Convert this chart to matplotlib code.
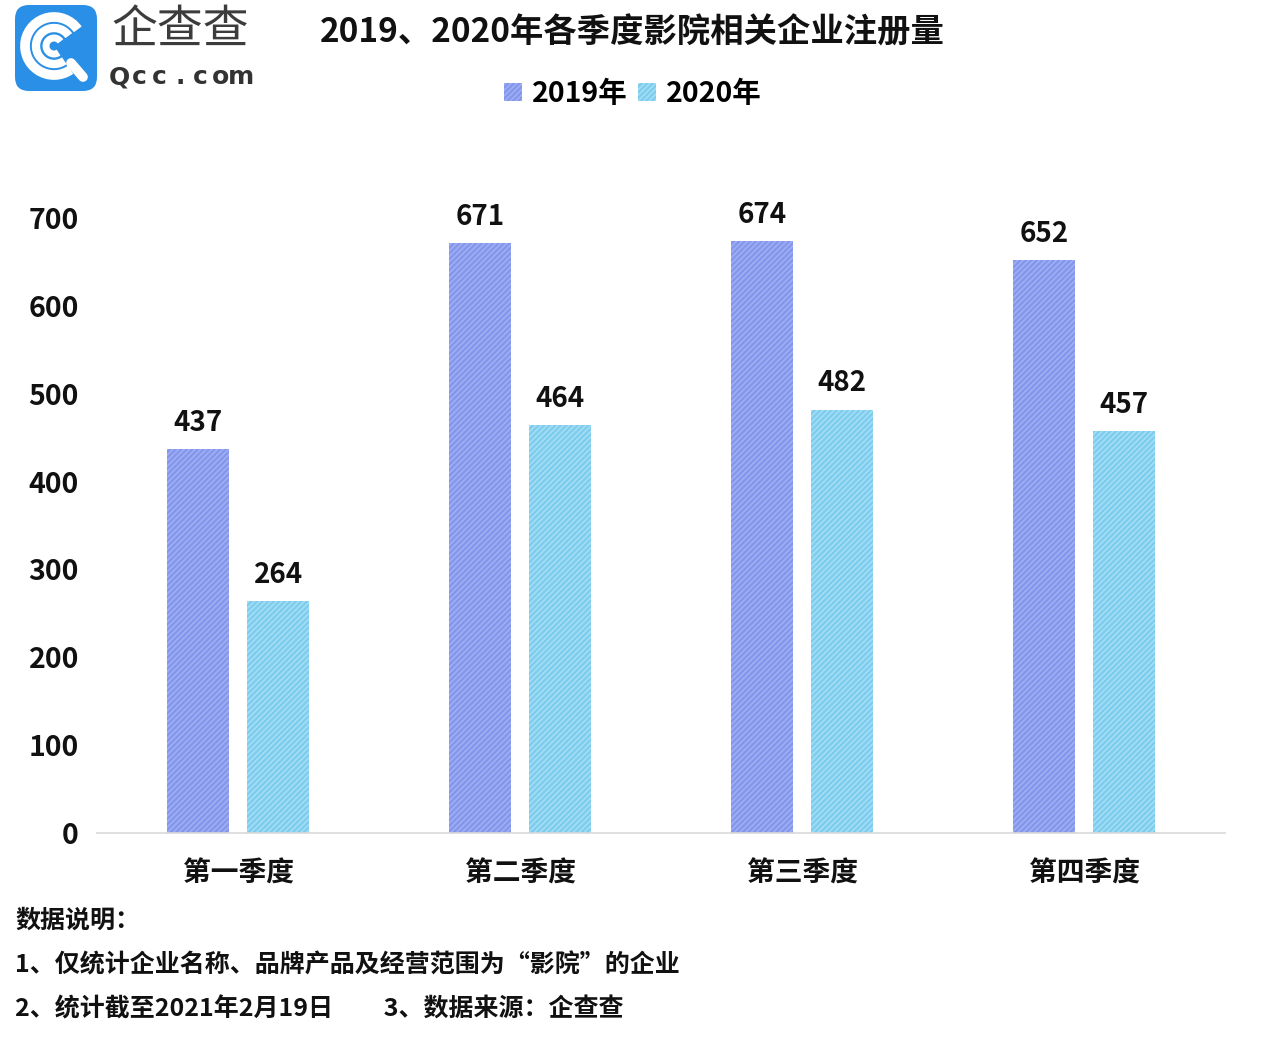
import matplotlib
matplotlib.use('Agg')
import matplotlib.pyplot as plt
from matplotlib.patches import FancyBboxPatch, Arc
import numpy as np

plt.rcParams['font.family'] = ['Noto Sans CJK SC', 'DejaVu Sans']
plt.rcParams['hatch.linewidth'] = 1.0

quarters = ['第一季度', '第二季度', '第三季度', '第四季度']
series_names = ['2019年', '2020年']
values_2019 = [437, 671, 674, 652]
values_2020 = [264, 464, 482, 457]
yticks = [0, 100, 200, 300, 400, 500, 600, 700]

face_colors = ['#8597EC', '#7ECDEE']
hatch_colors = ['#A3B2F4', '#A9E0F5']

fig = plt.figure(figsize=(12.67, 10.38), dpi=100)
ax = fig.add_axes([97 / 1267, 1 - 833 / 1038, 1128 / 1267, 615 / 1038])

x = np.arange(len(quarters))
width = 0.223
offset = 0.142
for vals, dx, fc, hc, name in zip([values_2019, values_2020], [-offset, offset],
                                  face_colors, hatch_colors, series_names):
    bars = ax.bar(x + dx, vals, width, color=fc, edgecolor=hc, hatch='//////',
                  linewidth=0, label=name)
    for b, v in zip(bars, vals):
        ax.text(b.get_x() + b.get_width() / 2, v + 14, str(v), ha='center',
                va='bottom', fontsize=20, fontweight='bold', color='#111111',
                clip_on=False)

ax.set_xlim(-0.5, 3.5)
ax.set_ylim(0, 700)
ax.set_yticks(yticks)
ax.set_yticklabels([str(t) for t in yticks], fontsize=20.5, fontweight='bold')
ax.set_xticks(x)
ax.set_xticklabels(quarters, fontsize=20, fontweight='bold')
ax.tick_params(axis='both', length=0, colors='#111111')
ax.tick_params(axis='y', pad=13)
ax.tick_params(axis='x', pad=19)
for s in ['top', 'right', 'left']:
    ax.spines[s].set_visible(False)
ax.spines['bottom'].set_color('#D9D9D9')
ax.spines['bottom'].set_linewidth(1.2)

fig.legend(loc='center', bbox_to_anchor=(633 / 1267, 1 - 94 / 1038),
           ncol=2, frameon=False, handlelength=0.62,
           handleheight=0.62, handletextpad=0.36, columnspacing=0.36,
           prop={'weight': 'bold', 'size': 20.5})

fig.text(632 / 1267, 1 - 33 / 1038, '2019、2020年各季度影院相关企业注册量',
         ha='center', va='center', fontsize=24, fontweight='bold', color='#111111')

notes = ['数据说明：',
         '1、仅统计企业名称、品牌产品及经营范围为“影院”的企业',
         '2、统计截至2021年2月19日         3、数据来源：企查查']
for i, line in enumerate(notes):
    fig.text(15 / 1267, 1 - (921 + 44 * i) / 1038, line, ha='left',
             va='center', fontsize=18, fontweight='bold', color='#111111')

# logo
lax = fig.add_axes([0, 1 - 100 / 1038, 270 / 1267, 100 / 1038])
lax.set_xlim(0, 270)
lax.set_ylim(100, 0)
lax.axis('off')
lax.add_patch(FancyBboxPatch((15, 5), 82, 86, boxstyle='round,pad=0,rounding_size=14',
                             facecolor='#2A8FE6', edgecolor='none'))
cx, cy = 54, 46
for r, lw in [(29, 7), (18, 6), (8, 5)]:
    lax.add_patch(Arc((cx, cy), 2 * r, 2 * r, theta1=55, theta2=325,
                      color='white', lw=lw))
lax.plot([cx + 17, cx + 29], [cy + 17, cy + 31], color='white', lw=7,
         solid_capstyle='round')
lax.text(180, 30, '企查查', ha='center', va='center', fontsize=33,
         color='#3C3C3C', fontweight='light')
for i, ch in enumerate('Qcc.com'):
    lax.text(119 + i * 20.3, 77, ch, ha='center', va='center', fontsize=18,
             color='#333333', fontweight='bold', family=['DejaVu Sans'])

fig.savefig('out.png', dpi=100)
